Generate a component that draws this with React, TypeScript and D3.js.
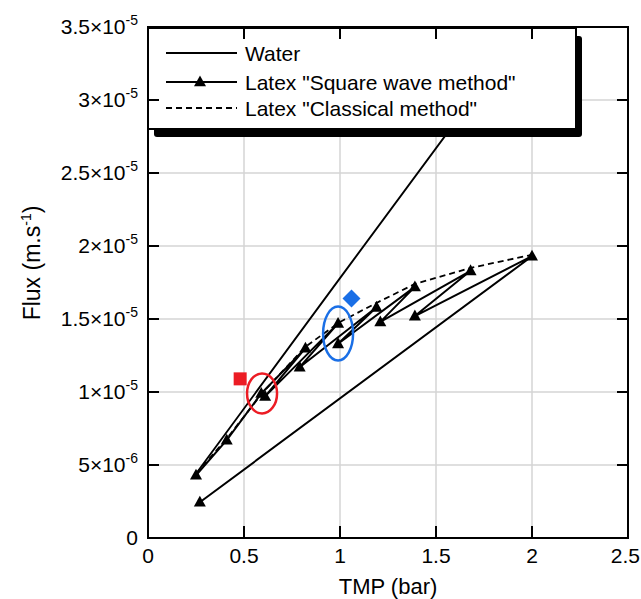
import * as d3 from "d3";
import React from "react";

// values
const waterTmp = [0.25, 1.0, 1.95];
const waterFlux = [4.4e-6, 1.78e-5, 3.47e-5];

const squareTmp = [0.25, 0.41, 0.59, 0.82, 0.61, 0.99, 0.79, 1.19, 0.99, 1.39, 1.21, 1.68, 1.39, 2.0, 0.27];
const squareFlux = [4.3e-6, 6.7e-6, 9.9e-6, 1.3e-5, 9.7e-6, 1.47e-5, 1.17e-5, 1.58e-5, 1.33e-5, 1.72e-5, 1.48e-5, 1.83e-5, 1.52e-5, 1.93e-5, 2.45e-6];

const classicTmp = [0.25, 0.41, 0.6, 0.82, 1.0, 1.19, 1.39, 1.68, 2.0];
const classicFlux = [4.4e-6, 6.8e-6, 1.0e-5, 1.31e-5, 1.48e-5, 1.61e-5, 1.74e-5, 1.85e-5, 1.94e-5];

// annotations: red square, blue diamond, circled regions
const redSquare = { tmp: 0.48, flux: 1.09e-5 };
const blueDiamond = { tmp: 1.06, flux: 1.64e-5 };
const redCircle = { tmp: 0.594, flux: 0.99e-5 };
const blueCircle = { tmp: 0.99, flux: 1.4e-5 };

const tmpTicks = [0, 0.5, 1, 1.5, 2, 2.5];
const fluxTicks = [0, 5e-6, 1e-5, 1.5e-5, 2e-5, 2.5e-5, 3e-5, 3.5e-5];

const legendLabels = ["Water", 'Latex "Square wave method"', 'Latex "Classical method"'];

const W = 641;
const H = 599;
const margin = { left: 148, right: 13, top: 27, bottom: 61 };
const FONT = "'Liberation Sans', Arial, sans-serif";

type Pt = [number, number];
const zip = (a: number[], b: number[]): Pt[] => a.map((v, i) => [v, b[i]]);

function sci(v: number) {
  if (v === 0) return { m: "0", e: "" };
  const e = Math.floor(Math.log10(v) + 1e-9);
  const m = String(Number((v / Math.pow(10, e)).toFixed(1)));
  return { m, e: String(e) };
}

const Triangle: React.FC<{ x: number; y: number; s?: number }> = ({ x, y, s = 12 }) => {
  const h = s * 0.9;
  return (
    <path
      d={`M${x},${y - h * 0.6}L${x + s / 2},${y + h * 0.4}L${x - s / 2},${y + h * 0.4}Z`}
      fill="#000"
    />
  );
};

export default function App() {
  const x = d3.scaleLinear().domain([0, 2.5]).range([margin.left, W - margin.right]);
  const y = d3.scaleLinear().domain([0, 3.5e-5]).range([H - margin.bottom, margin.top]);

  const line = d3
    .line<Pt>()
    .x((d) => x(d[0]))
    .y((d) => y(d[1]));

  const water = zip(waterTmp, waterFlux);
  const square = zip(squareTmp, squareFlux);
  const classic = zip(classicTmp, classicFlux);

  const x0 = x(0), x1 = x(2.5), y0 = y(0), y1 = y(3.5e-5);

  // legend box
  const lg = { x: x0, y: 28, w: 428, h: 101 };
  const rows = [53, 82, 108];

  return (
    <svg
      width={W}
      height={H}
      style={{ position: "absolute", left: 0, top: 0, background: "#fff" }}
      fontFamily={FONT}
    >
      <defs>
        <clipPath id="plot">
          <rect x={x0} y={y1} width={x1 - x0} height={y0 - y1} />
        </clipPath>
      </defs>

      {/* grid */}
      <g stroke="#d4d4d4" strokeWidth={1.5}>
        {tmpTicks.slice(1, -1).map((t) => (
          <line key={"gx" + t} x1={x(t)} x2={x(t)} y1={y0} y2={y1} />
        ))}
        {fluxTicks.slice(1, -1).map((t) => (
          <line key={"gy" + t} x1={x0} x2={x1} y1={y(t)} y2={y(t)} />
        ))}
      </g>

      <g clipPath="url(#plot)">
        <path d={line(water) ?? ""} fill="none" stroke="#000" strokeWidth={1.9} />
        <path d={line(classic) ?? ""} fill="none" stroke="#000" strokeWidth={1.8} strokeDasharray="6,4" />
        <path d={line(square) ?? ""} fill="none" stroke="#000" strokeWidth={2} strokeLinejoin="round" />
        {square.map((d, i) => (
          <Triangle key={i} x={x(d[0])} y={y(d[1])} />
        ))}

        <rect
          x={x(redSquare.tmp) - 6.5}
          y={y(redSquare.flux) - 6.5}
          width={13}
          height={13}
          fill="#ec1c24"
        />
        <path
          d={`M${x(blueDiamond.tmp)},${y(blueDiamond.flux) - 9}l9,9l-9,9l-9,-9Z`}
          fill="#1a6fe6"
        />
        <ellipse
          cx={x(redCircle.tmp)}
          cy={y(redCircle.flux)}
          rx={15}
          ry={20}
          fill="none"
          stroke="#ec1c24"
          strokeWidth={2.5}
        />
        <ellipse
          cx={x(blueCircle.tmp)}
          cy={y(blueCircle.flux)}
          rx={15}
          ry={27}
          fill="none"
          stroke="#1a6fe6"
          strokeWidth={2.5}
        />
      </g>

      {/* legend */}
      <rect x={lg.x + 6} y={lg.y + 8} width={lg.w} height={lg.h} fill="#000" rx={3} />
      <rect x={lg.x} y={lg.y} width={lg.w} height={lg.h} fill="#fff" stroke="#000" strokeWidth={2} />
      {legendLabels.map((lab, i) => (
        <g key={lab}>
          <line
            x1={166}
            x2={237}
            y1={rows[i]}
            y2={rows[i]}
            stroke="#000"
            strokeWidth={1.8}
            strokeDasharray={i === 2 ? "6,4" : undefined}
          />
          {i === 1 && <Triangle x={200} y={rows[i]} />}
          <text x={245} y={rows[i] + 7.5} fontSize={21}>
            {lab}
          </text>
        </g>
      ))}

      {/* frame and ticks */}
      <rect x={x0} y={y1} width={x1 - x0} height={y0 - y1} fill="none" stroke="#000" strokeWidth={2} />
      <g stroke="#000" strokeWidth={2}>
        {tmpTicks.slice(1, -1).map((t) => (
          <g key={"tx" + t}>
            <line x1={x(t)} x2={x(t)} y1={y0} y2={y0 - 12} />
            <line x1={x(t)} x2={x(t)} y1={y1} y2={y1 + 12} />
          </g>
        ))}
        {fluxTicks.slice(1, -1).map((t) => (
          <g key={"ty" + t}>
            <line x1={x0} x2={x0 + 11} y1={y(t)} y2={y(t)} />
            <line x1={x1} x2={x1 - 11} y1={y(t)} y2={y(t)} />
          </g>
        ))}
      </g>

      {/* tick labels; the last one is kept inside the page edge */}
      {tmpTicks.map((t, i) => {
        const last = i === tmpTicks.length - 1;
        return (
          <text
            key={"lx" + t}
            x={last ? W - 1 : x(t)}
            y={y0 + 25}
            fontSize={21}
            textAnchor={last ? "end" : "middle"}
          >
            {String(t)}
          </text>
        );
      })}
      {fluxTicks.map((t) => {
        const { m, e } = sci(t);
        return (
          <text key={"ly" + t} x={138} y={y(t) + 7} fontSize={21} textAnchor="end">
            {e === "" ? (
              m
            ) : (
              <>
                <tspan>{m}×10</tspan>
                <tspan dy={-9} fontSize={14}>
                  {e}
                </tspan>
              </>
            )}
          </text>
        );
      })}

      {/* axis titles */}
      <text x={(x0 + x1) / 2} y={594} fontSize={22} textAnchor="middle">
        TMP (bar)
      </text>
      <text transform={`translate(40,263) rotate(-90)`} fontSize={23} textAnchor="middle">
        Flux (m.s
        <tspan dy={-9} fontSize={14}>
          -1
        </tspan>
        <tspan dy={9}>)</tspan>
      </text>
    </svg>
  );
}
